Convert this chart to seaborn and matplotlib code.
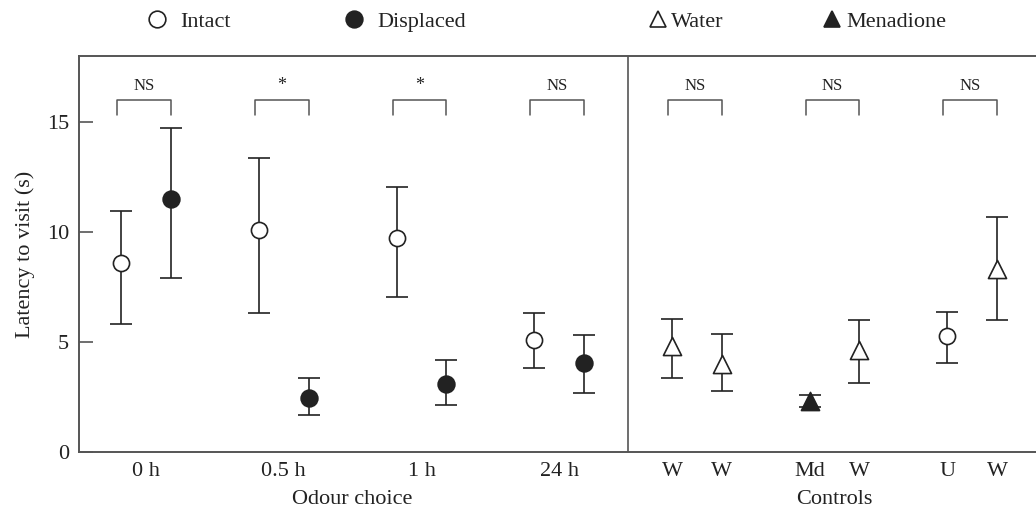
import numpy as np
import pandas as pd
import matplotlib.pyplot as plt
from matplotlib.lines import Line2D
import seaborn as sns

# odour choice groups (mean and error bar ends, s)
odour_times = ["0 h", "0.5 h", "1 h", "24 h"]
intact_mean = [8.6, 10.08, 9.73, 5.08]
intact_low = [5.82, 6.32, 7.06, 3.8]
intact_high = [10.95, 13.38, 12.05, 6.32]
displaced_mean = [11.5, 2.47, 3.08, 4.05]
displaced_low = [7.91, 1.68, 2.14, 2.7]
displaced_high = [14.74, 3.36, 4.2, 5.3]
odour_signif = ["NS", "*", "*", "NS"]

# control pairs
control_left_label = ["W", "Md", "U"]
control_right_label = ["W", "W", "W"]
control_left_kind = ["Water", "Menadione", "Intact"]
control_right_kind = ["Water", "Water", "Water"]
control_left_mean = [4.82, 2.3, 5.27]
control_left_low = [3.36, 2.05, 4.05]
control_left_high = [6.06, 2.57, 6.38]
control_right_mean = [4.01, 4.62, 8.3]
control_right_low = [2.77, 3.15, 5.98]
control_right_high = [5.38, 5.98, 10.68]
control_signif = ["NS", "NS", "NS"]

OFF = 0.18
rows = []
for i in range(len(odour_times)):
    rows.append((i - OFF, intact_mean[i], intact_low[i], intact_high[i], "Intact"))
    rows.append((i + OFF, displaced_mean[i], displaced_low[i], displaced_high[i], "Displaced"))
n0 = len(odour_times)
for j in range(len(control_left_label)):
    g = n0 + j
    rows.append((g - OFF, control_left_mean[j], control_left_low[j], control_left_high[j], control_left_kind[j]))
    rows.append((g + OFF, control_right_mean[j], control_right_low[j], control_right_high[j], control_right_kind[j]))
df = pd.DataFrame(rows, columns=["x", "mean", "low", "high", "kind"])

sns.set_style("ticks")
plt.rcParams['font.family'] = ['Liberation Serif', 'DejaVu Serif']

fig = plt.figure(figsize=(10.36, 5.08), dpi=100)
ax = fig.add_axes([79 / 1036, 1 - 452 / 508, 1 - 79 / 1036, 396 / 508])

ink = '#222222'
grey = '#555555'

ax.errorbar(df["x"], df["mean"], yerr=[df["mean"] - df["low"], df["high"] - df["mean"]],
            fmt='none', ecolor=ink, elinewidth=1.2, capsize=8, capthick=1.2, zorder=2)

face = {"Intact": "white", "Displaced": ink, "Water": "white", "Menadione": ink}
marks = {"Intact": "o", "Displaced": "o", "Water": "^", "Menadione": "^"}
sizes = {"Intact": 135, "Displaced": 145, "Water": 170, "Menadione": 170}
for kind, sub in df.groupby("kind"):
    sns.scatterplot(data=sub, x="x", y="mean", ax=ax, color=face[kind], marker=marks[kind],
                    s=sizes[kind], edgecolor=ink, linewidth=1.2, zorder=3, legend=False)

# significance brackets
signif = odour_signif + control_signif
for g, lab in enumerate(signif):
    x0, x1 = g - 0.21, g + 0.18
    ax.plot([x0, x0, x1, x1], [15.3, 16.0, 16.0, 15.3], color=grey, lw=1.1, zorder=2)
    ax.text((x0 + x1) / 2, 16.25, lab, ha='center', va='bottom', fontsize=12 if lab == "NS" else 13, color=ink)

ax.axvline(len(odour_times) - 0.5, color=grey, lw=1.2)

ax.set_xlim(-0.487, 6.463)
ax.set_ylim(0, 18)
ax.set_yticks([0, 5, 10, 15])

tick_pos = list(range(n0))
tick_lab = list(odour_times)
for j in range(len(control_left_label)):
    tick_pos += [n0 + j - OFF, n0 + j + OFF]
    tick_lab += [control_left_label[j], control_right_label[j]]
ax.set_xticks(tick_pos)
ax.set_xticklabels(tick_lab)

ax.tick_params(axis='y', direction='in', length=10, width=1.2, color=grey, labelsize=16, pad=7, labelcolor=ink)
ax.tick_params(axis='x', length=0, labelsize=16, pad=7, labelcolor=ink)
for side in ['left', 'top', 'bottom']:
    ax.spines[side].set_color(grey)
    ax.spines[side].set_linewidth(1.4)
ax.spines['right'].set_visible(False)

ax.set_xlabel("")
ax.set_ylabel("Latency to visit (s)", fontsize=16, color=ink, labelpad=9)
ax.text((n0 - 1) / 2, -0.12, "Odour choice", transform=ax.get_xaxis_transform(),
        ha='center', va='center', fontsize=16, color=ink)
ax.text(n0 + 1, -0.12, "Controls", transform=ax.get_xaxis_transform(),
        ha='center', va='center', fontsize=16, color=ink)

# legend entries along the top
entries = [("Intact", 'o', 'white', 146, 0.55), ("Displaced", 'o', ink, 343, 0.55),
           ("Water", '^', 'white', 647, 0.1), ("Menadione", '^', ink, 821, 0.15)]
for lab, m, fc, px, tp in entries:
    h = Line2D([], [], ls='none', marker=m, markersize=12, markerfacecolor=fc,
               markeredgecolor=ink, markeredgewidth=1.2, label=lab)
    fig.legend(handles=[h], loc='center left', bbox_to_anchor=(px / 1036, 1 - 22 / 508),
               frameon=False, borderpad=0, borderaxespad=0, handlelength=1.0,
               handletextpad=tp, fontsize=16, labelcolor=ink)

fig.savefig("out.png", dpi=100)
